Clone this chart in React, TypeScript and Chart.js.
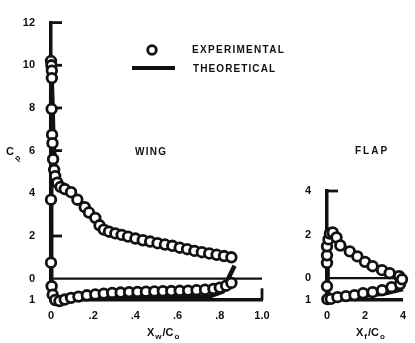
import React, { useEffect, useRef } from "react";
import { Chart, registerables } from "chart.js";

Chart.register(...registerables);

// ---------- DATA ----------
// Wing, upper surface (experimental)
const wingUpperX = [0.000, 0.002, 0.004, 0.004, 0.003, 0.005, 0.007, 0.010, 0.015, 0.020, 0.030, 0.045, 0.065, 0.095, 0.125, 0.160, 0.180, 0.210, 0.230, 0.250, 0.275, 0.305, 0.335, 0.365, 0.400, 0.435, 0.470, 0.505, 0.540, 0.575, 0.610, 0.645, 0.680, 0.715, 0.750, 0.785, 0.820, 0.855];
const wingUpperCp = [10.2, 10.0, 9.75, 9.4, 7.95, 6.75, 6.35, 5.6, 5.1, 4.8, 4.5, 4.3, 4.2, 4.05, 3.7, 3.35, 3.1, 2.85, 2.5, 2.3, 2.2, 2.12, 2.05, 1.97, 1.88, 1.8, 1.74, 1.66, 1.6, 1.54, 1.45, 1.38, 1.3, 1.24, 1.18, 1.12, 1.06, 1.0];
// Wing, nose and lower surface (experimental)
const wingLowerX = [0.000, 0.000, 0.003, 0.008, 0.020, 0.040, 0.065, 0.095, 0.130, 0.170, 0.210, 0.250, 0.290, 0.330, 0.370, 0.410, 0.450, 0.490, 0.530, 0.570, 0.610, 0.650, 0.690, 0.730, 0.770, 0.800, 0.830, 0.855];
const wingLowerCp = [3.7, 0.75, -0.35, -0.75, -1.0, -1.05, -0.98, -0.9, -0.84, -0.78, -0.74, -0.7, -0.67, -0.65, -0.63, -0.62, -0.61, -0.6, -0.59, -0.58, -0.57, -0.56, -0.54, -0.52, -0.48, -0.42, -0.33, -0.2];
// Wing, theoretical (trailing edge -> lower surface -> nose -> upper surface)
const wingTheoX = [0.870, 0.845, 0.815, 0.750, 0.600, 0.450, 0.300, 0.200, 0.120, 0.060, 0.030, 0.012, 0.004, 0.000, 0.000, 0.001, 0.003, 0.006, 0.012, 0.022, 0.040, 0.070, 0.100, 0.130, 0.170, 0.210, 0.250, 0.300, 0.400, 0.500, 0.600, 0.700, 0.800, 0.860];
const wingTheoCp = [0.6, 0.1, -0.6, -0.84, -0.86, -0.88, -0.9, -0.93, -0.97, -1.02, -0.98, -0.7, -0.2, 0.8, 4.0, 8.0, 10.0, 8.5, 6.3, 5.0, 4.35, 4.15, 3.95, 3.65, 3.2, 2.8, 2.45, 2.2, 1.9, 1.68, 1.5, 1.3, 1.13, 1.0];

// Flap, upper surface (experimental)
const flapUpperX = [0.000, 0.000, 0.000, 0.008, 0.015, 0.030, 0.050, 0.070, 0.120, 0.160, 0.200, 0.240, 0.290, 0.330, 0.380, 0.395];
const flapUpperCp = [0.7, 1.05, 1.46, 1.78, 2.05, 2.1, 1.87, 1.5, 1.23, 1.0, 0.75, 0.55, 0.37, 0.23, 0.09, -0.05];
// Flap, lower surface (experimental)
const flapLowerX = [0.000, 0.002, 0.020, 0.055, 0.100, 0.145, 0.190, 0.240, 0.290, 0.340, 0.385];
const flapLowerCp = [-0.37, -0.96, -0.95, -0.87, -0.82, -0.78, -0.69, -0.64, -0.55, -0.41, -0.27];
// Flap, theoretical
const flapTheoX = [0.400, 0.300, 0.150, 0.050, 0.010, 0.003, 0.002, 0.004, 0.015, 0.040, 0.080, 0.160, 0.250, 0.330, 0.400];
const flapTheoCp = [-0.5, -0.7, -0.85, -0.92, -0.9, -0.4, 0.5, 1.3, 1.85, 1.95, 1.5, 1.0, 0.5, 0.2, 0.0];

// Ticks
const wingXTicks = [0, 0.2, 0.4, 0.6, 0.8, 1.0];
const wingXLabels = ["0", ".2", ".4", ".6", ".8", "1.0"];
const wingYTicks = [-1, 0, 2, 4, 6, 8, 10, 12];
const wingYLabels = ["1", "0", "2", "4", "6", "8", "10", "12"];
const wingInnerTicks = [12, 10, 8, 6, 2];
const flapXTicks = [0, 0.2, 0.4];
const flapXLabels = ["0", "2", "4"];
const flapYTicks = [-1, 0, 2, 4];
const flapYLabels = ["1", "0", "2", "4"];
const flapInnerTicks = [4, 2];

const INK = "#111111";
const FONT = "'Liberation Sans', Arial, sans-serif";

const pts = (xs: number[], ys: number[]) => xs.map((x, i) => ({ x, y: ys[i] }));

function circleSet(data: any[]) {
  return {
    data,
    showLine: false,
    pointRadius: 4.8,
    pointBorderWidth: 2.8,
    pointBackgroundColor: "#ffffff",
    pointBorderColor: INK,
    clip: false as any,
    order: 0,
  };
}
function lineSet(data: any[]) {
  return {
    data,
    showLine: true,
    borderColor: INK,
    borderWidth: 4.5,
    pointRadius: 0,
    tension: 0,
    clip: false as any,
    order: 1,
  };
}

function makeScales(xmin: number, xmax: number, xt: number[], xl: string[], ymin: number, ymax: number, yt: number[], yl: string[]) {
  const tickFont = { family: FONT, size: 11, weight: "bold" as any };
  return {
    x: {
      type: "linear" as const,
      min: xmin,
      max: xmax,
      afterBuildTicks: (s: any) => { s.ticks = xt.map((v) => ({ value: v })); },
      afterFit: (s: any) => { s.height = 30; },
      ticks: {
        font: tickFont,
        color: INK,
        padding: 9,
        maxRotation: 0,
        autoSkip: false,
        callback: (v: any) => { const i = xt.findIndex((t) => Math.abs(t - v) < 1e-9); return i >= 0 ? xl[i] : ""; },
      },
      grid: { display: false, drawTicks: false },
      border: { display: true, width: 3.5, color: INK },
    },
    y: {
      type: "linear" as const,
      min: ymin,
      max: ymax,
      afterBuildTicks: (s: any) => { s.ticks = yt.map((v) => ({ value: v })); },
      afterFit: (s: any) => { s.width = 30; },
      ticks: {
        font: tickFont,
        color: INK,
        padding: 16,
        autoSkip: false,
        callback: (v: any) => { const i = yt.findIndex((t) => Math.abs(t - v) < 1e-9); return i >= 0 ? yl[i] : ""; },
      },
      grid: { display: false, drawTicks: false },
      border: { display: true, width: 3.5, color: INK },
    },
  };
}

function spacedText(ctx: CanvasRenderingContext2D, text: string, x: number, y: number, size: number, spacing: number) {
  ctx.save();
  ctx.font = `bold ${size}px ${FONT}`;
  (ctx as any).letterSpacing = `${spacing}px`;
  ctx.fillStyle = INK;
  ctx.textAlign = "left";
  ctx.textBaseline = "middle";
  ctx.fillText(text, x, y);
  ctx.restore();
}

function subLabel(ctx: CanvasRenderingContext2D, parts: [string, boolean][], x: number, y: number) {
  ctx.save();
  ctx.fillStyle = INK;
  ctx.textBaseline = "middle";
  ctx.textAlign = "left";
  let cx = x;
  for (const [t, sub] of parts) {
    ctx.font = sub ? `bold 8px ${FONT}` : `bold 11px ${FONT}`;
    ctx.fillText(t, cx, sub ? y + 4 : y);
    cx += ctx.measureText(t).width + 1;
  }
  ctx.restore();
}

function decorPlugin(kind: "wing" | "flap") {
  return {
    id: "decor_" + kind,
    beforeDatasetsDraw(chart: any) {
      const { ctx, chartArea } = chart;
      const xs = chart.scales.x;
      const ys = chart.scales.y;
      ctx.save();
      ctx.strokeStyle = INK;
      ctx.lineCap = "butt";
      // zero line
      ctx.lineWidth = 2.2;
      ctx.beginPath();
      ctx.moveTo(chartArea.left, ys.getPixelForValue(0));
      ctx.lineTo(chartArea.right, ys.getPixelForValue(0));
      ctx.stroke();
      // inward ticks
      ctx.lineWidth = 2.8;
      const inner = kind === "wing" ? wingInnerTicks : flapInnerTicks;
      for (const v of inner) {
        const py = ys.getPixelForValue(v);
        ctx.beginPath();
        ctx.moveTo(chartArea.left, py);
        ctx.lineTo(chartArea.left + 11, py);
        ctx.stroke();
      }
      if (kind === "wing") {
        const px = xs.getPixelForValue(1.0);
        ctx.beginPath();
        ctx.moveTo(px, ys.getPixelForValue(-1));
        ctx.lineTo(px, ys.getPixelForValue(-0.45));
        ctx.stroke();
      }
      ctx.restore();
    },
    afterDraw(chart: any) {
      const { ctx } = chart;
      if (kind === "wing") {
        // legend
        ctx.save();
        ctx.strokeStyle = INK;
        ctx.fillStyle = "#fff";
        ctx.lineWidth = 2.8;
        ctx.beginPath();
        ctx.arc(152, 50, 4.3, 0, Math.PI * 2);
        ctx.fill();
        ctx.stroke();
        ctx.lineWidth = 3.8;
        ctx.beginPath();
        ctx.moveTo(132, 68);
        ctx.lineTo(175, 68);
        ctx.stroke();
        ctx.restore();
        spacedText(ctx, "EXPERIMENTAL", 192, 50, 10, 1.3);
        spacedText(ctx, "THEORETICAL", 193, 69, 10, 1.1);
        spacedText(ctx, "WING", 135, 152, 10, 1.3);
        subLabel(ctx, [["X", false], ["w", true], ["/C", false], ["o", true]], 147, 333);
        // y title
        ctx.save();
        ctx.fillStyle = INK;
        ctx.textBaseline = "middle";
        ctx.font = `bold 11px ${FONT}`;
        ctx.fillText("C", 6, 152);
        ctx.translate(16, 160);
        ctx.rotate(-Math.PI / 4);
        ctx.font = `bold 8px ${FONT}`;
        ctx.fillText("p", 0, 0);
        ctx.restore();
      } else {
        spacedText(ctx, "FLAP", 355, 151, 10, 2);
        subLabel(ctx, [["X", false], ["f", true], ["/C", false], ["o", true]], 356, 333);
      }
    },
  };
}

function useChart(ref: React.RefObject<HTMLCanvasElement>, build: () => any) {
  useEffect(() => {
    if (!ref.current) return;
    const chart = new Chart(ref.current, build());
    return () => chart.destroy();
  }, []);
}

export default function App() {
  const wingRef = useRef<HTMLCanvasElement>(null);
  const flapRef = useRef<HTMLCanvasElement>(null);

  useChart(wingRef, () => ({
    type: "scatter",
    data: {
      datasets: [
        circleSet(pts(wingUpperX, wingUpperCp)),
        circleSet(pts(wingLowerX, wingLowerCp)),
        lineSet(pts(wingTheoX, wingTheoCp)),
      ],
    },
    options: {
      responsive: false,
      animation: false,
      devicePixelRatio: 1,
      layout: { padding: { left: 21, right: 153, top: 16, bottom: 13 } },
      plugins: { legend: { display: false }, tooltip: { enabled: false } },
      scales: makeScales(0, 1, wingXTicks, wingXLabels, -1, 12, wingYTicks, wingYLabels),
    },
    plugins: [decorPlugin("wing")],
  }));

  useChart(flapRef, () => ({
    type: "scatter",
    data: {
      datasets: [
        circleSet(pts(flapUpperX, flapUpperCp)),
        circleSet(pts(flapLowerX, flapLowerCp)),
        lineSet(pts(flapTheoX, flapTheoCp)),
      ],
    },
    options: {
      responsive: false,
      animation: false,
      devicePixelRatio: 1,
      layout: { padding: { left: 297, right: 5, top: 191, bottom: 13 } },
      plugins: { legend: { display: false }, tooltip: { enabled: false } },
      scales: makeScales(0, 0.4, flapXTicks, flapXLabels, -1, 4, flapYTicks, flapYLabels),
    },
    plugins: [decorPlugin("flap")],
  }));

  const cstyle: React.CSSProperties = { position: "absolute", left: 0, top: 0 };
  return (
    <div style={{ position: "absolute", left: 0, top: 0, width: 415, height: 343, background: "#fff" }}>
      <canvas ref={wingRef} width={415} height={343} style={cstyle} />
      <canvas ref={flapRef} width={415} height={343} style={cstyle} />
    </div>
  );
}
